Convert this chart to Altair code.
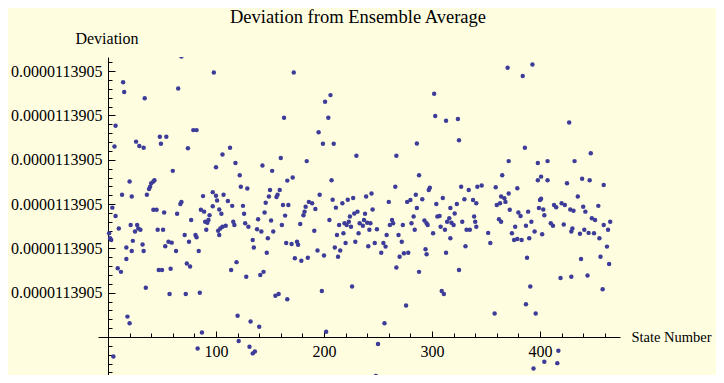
import altair as alt
import pandas as pd

# State number of each plotted point
state = [
    68, 14, 15, 34, 65, 7, 6, 26, 29, 33, 48, 54, 49, 74, 79, 82, 60, 20, 39, 40,
    42, 43, 38, 98, 172, 163, 113, 106, 118, 100, 160, 143, 152, 122, 166, 171, 123, 129, 206, 201,
    204, 195, 199, 209, 230, 184, 207, 302, 303, 313, 324, 325, 286, 267, 288, 266, 298, 327, 342, 370,
    384, 393, 427, 386, 447, 371, 398, 407, 432, 365, 398, 401, 407, 425, 439, 446, 459, 346, 359, 379,
    150, 159, 297, 334, 13, 22, 36, 68, 67, 4, 97, 100, 88, 107, 101, 111, 115, 97, 103, 125,
    157, 156, 149, 146, 162, 167, 196, 208, 186, 189, 183, 192, 211, 217, 222, 227, 239, 244, 245, 260,
    285, 291, 310, 277, 280, 330, 338, 341, 304, 286, 317, 323, 371, 364, 367, 435, 401, 7, 1, 2,
    3, 10, 21, 27, 28, 30, 25, 42, 45, 52, 64, 77, 46, 51, 23, 32, 17, 22, 33, 56,
    59, 53, 63, 71, 75, 81, 82, 84, 17, 9, 12, 47, 50, 58, 73, 76, 35, 57, 72, 85,
    18, 20, 83, 5, 94, 93, 90, 92, 86, 89, 105, 91, 102, 104, 106, 109, 103, 116, 117, 126,
    127, 130, 139, 145, 151, 164, 138, 142, 153, 161, 148, 134, 135, 165, 170, 147, 173, 119, 114, 128,
    141, 144, 155, 158, 166, 120, 132, 140, 87, 121, 131, 134, 136, 181, 182, 178, 191, 205, 175, 176,
    179, 185, 194, 200, 213, 210, 215, 212, 218, 220, 214, 219, 221, 223, 225, 224, 228, 231, 233, 236,
    237, 240, 243, 232, 229, 241, 242, 249, 247, 253, 255, 261, 258, 198, 226, 256, 202, 250, 248, 238,
    263, 264, 273, 269, 272, 257, 283, 281, 284, 293, 295, 296, 301, 305, 307, 308, 312, 314, 316, 318,
    320, 317, 328, 332, 335, 339, 340, 341, 331, 270, 274, 278, 294, 295, 313, 267, 288, 325, 309, 311,
    276, 321, 360, 363, 368, 380, 382, 372, 389, 400, 399, 403, 404, 413, 415, 420, 423, 428, 431, 440,
    442, 448, 451, 454, 459, 465, 463, 392, 410, 412, 422, 430, 429, 437, 441, 445, 450, 455, 377, 374,
    376, 379, 383, 387, 390, 395, 402, 388, 438, 462, 464, 456, 419, 429, 444, 391, 387, 458, 396, 417,
    394, 404, 416, 358, 352, 354, 362, 364,
]

# Deviation of each point, in units of one labelled tick step above the axis origin
deviation = [
    6.33, 5.75, 5.53, 5.39, 5.61, 4.77, 4.30, 4.41, 4.31, 4.27, 4.52, 4.52, 4.36, 4.26, 4.67, 4.67, 3.75, 3.51, 3.39, 3.47,
    3.51, 3.54, 3.34, 5.97, 5.97, 4.95, 4.27, 4.12, 3.93, 3.83, 4.04, 3.87, 3.75, 3.65, 3.53, 3.60, 3.39, 3.35, 5.46, 5.31,
    4.95, 4.62, 4.36, 4.36, 4.09, 3.97, 3.54, 5.49, 4.99, 4.88, 4.92, 4.44, 4.37, 4.09, 3.65, 3.39, 3.37, 3.39, 3.39, 6.08,
    5.89, 6.15, 4.84, 4.27, 4.15, 3.97, 3.93, 3.97, 3.97, 3.65, 3.54, 3.62, 3.54, 3.47, 3.57, 3.54, 3.43, 3.42, 3.38, 3.36,
    3.32, 3.32, 3.32, 3.32, 3.21, 3.17, 3.21, 3.05, 3.00, 2.92, 3.27, 3.19, 3.18, 3.21, 3.08, 3.07, 2.96, 2.95, 2.88, 2.96,
    3.21, 3.16, 3.17, 3.03, 2.98, 2.98, 3.21, 3.10, 3.05, 3.02, 2.94, 2.89, 2.92, 3.02, 3.10, 3.14, 3.17, 3.24, 2.88, 3.05,
    3.21, 3.11, 3.14, 3.05, 3.09, 3.11, 3.09, 3.02, 3.00, 2.91, 2.91, 3.00, 3.24, 3.17, 3.13, 3.17, 3.12, 2.73, 2.34, 2.23,
    2.19, 2.45, 2.53, 2.53, 2.45, 2.42, 2.38, 2.87, 2.87, 2.81, 2.78, 2.64, 2.42, 2.42, 2.17, 2.09, 2.02, 1.94, 1.94, 2.15,
    2.13, 2.05, 1.94, 2.30, 2.15, 2.30, 2.25, 1.94, 1.76, 1.55, 1.47, 1.51, 1.51, 1.54, 1.66, 1.59, 1.11, 0.97, 0.97, 1.00,
    0.46, 0.31, -0.26, -0.44, 2.75, 2.64, 2.60, 2.58, 2.87, 2.83, 2.78, 2.42, 2.40, 2.45, 2.49, 2.51, 2.30, 2.60, 2.53, 2.78,
    2.57, 2.49, 2.66, 2.81, 2.63, 2.74, 2.43, 2.38, 2.38, 2.53, 2.23, 2.19, 2.02, 2.12, 2.10, 1.90, 1.78, 1.69, 1.51, 1.36,
    1.40, 1.47, 0.93, 0.97, 0.85, 0.48, 0.35, 0.23, 0.10, -0.09, -0.22, -0.37, -0.33, 2.75, 2.83, 2.55, 2.40, 2.64, 2.15, 2.08,
    1.72, 1.79, 1.95, 1.84, 1.81, 2.02, 1.95, 2.30, 2.34, 2.12, 2.53, 2.57, 2.53, 2.60, 2.49, 2.72, 2.79, 2.83, 2.57, 2.51,
    2.64, 2.58, 2.57, 2.34, 2.15, 2.05, 2.42, 2.43, 2.12, 1.90, 2.12, 2.53, 2.30, 1.04, 1.14, 0.31, 0.12, -0.16, -0.88, 2.78,
    2.64, 2.57, 2.53, 2.30, 2.15, 2.04, 2.72, 2.57, 2.42, 2.63, 2.57, 2.53, 2.34, 2.72, 2.73, 2.49, 2.42, 2.60, 2.68, 2.58,
    2.53, 2.23, 2.60, 2.42, 2.42, 2.72, 2.60, 2.49, 2.05, 1.81, 1.89, 1.90, 1.98, 1.87, 1.90, 1.57, 1.47, 1.51, 1.04, 0.97,
    0.71, 2.79, 2.98, 3.02, 3.05, 2.81, 2.73, 2.87, 2.83, 3.09, 2.91, 2.88, 2.75, 2.98, 2.93, 3.02, 2.98, 2.88, 2.85, 2.94,
    2.83, 2.68, 2.64, 2.96, 2.53, 2.60, 2.42, 2.60, 2.57, 2.51, 2.54, 2.45, 2.38, 2.33, 2.42, 2.35, 2.34, 2.23, 2.49, 2.34,
    2.19, 2.21, 2.19, 2.51, 2.23, 2.38, 2.32, 1.79, 1.76, 2.04, 1.65, 1.81, 1.33, 1.36, 1.39, 1.14, 0.74, 1.08, 0.53, -0.31,
    -0.71, -0.56, -0.59, 0.53, 2.35, 2.12, 2.66, 2.60,
]

x_major = [100, 200, 300, 400]
x_minor = [20, 40, 60, 80, 120, 140, 160, 180, 220, 240, 260, 280,
           320, 340, 360, 380, 420, 440, 460]
y_major = [1, 2, 3, 4, 5, 6]
y_minor = [-0.8, -0.6, -0.4, -0.2, 0.2, 0.4, 0.6, 0.8, 1.2, 1.4, 1.6, 1.8,
           2.2, 2.4, 2.6, 2.8, 3.2, 3.4, 3.6, 3.8, 4.2, 4.4, 4.6, 4.8,
           5.2, 5.4, 5.6, 5.8, 6.2]
y_label = "0.0000113905"

df = pd.DataFrame({"state": state, "deviation": deviation})

FONT = "Liberation Serif"
xs = alt.Scale(domain=[-9.26, 474.07], nice=False, zero=False)
ys = alt.Scale(domain=[-0.858, 6.3205], nice=False, zero=False)

base = alt.Chart(df)

points = base.mark_circle(size=20, color="#3d3d99", opacity=1, clip=True).encode(
    x=alt.X("state:Q", scale=xs, axis=alt.Axis(
        orient="bottom", values=x_major, ticks=False, grid=False,
        domain=True, domainColor="black", domainWidth=1,
        labelPadding=6, labelFont=FONT, labelFontSize=16, labelColor="black",
        labelFlush=False, labelOverlap=False, offset=-38,
        title="State Number", titleX=533, titleY=0, titleAlign="left",
        titleBaseline="middle", titleFont=FONT, titleFontSize=14.5,
        titleFontWeight="normal", titleColor="black")),
    y=alt.Y("deviation:Q", scale=ys, axis=alt.Axis(
        orient="left", values=y_major, ticks=False, grid=False,
        domain=True, domainColor="black", domainWidth=1,
        labelExpr="'" + y_label + "'", labelPadding=6, labelFont=FONT,
        labelFontSize=16, labelColor="black", labelOverlap=False, labelFlush=False,
        offset=-10,
        title="Deviation", titleX=-1.5, titleY=-19, titleAngle=0,
        titleAlign="center", titleBaseline="middle", titleFont=FONT,
        titleFontSize=16, titleFontWeight="normal", titleColor="black")),
)

major = base.mark_point(opacity=0).encode(
    x=alt.X("state:Q", scale=xs, axis=alt.Axis(
        orient="bottom", values=x_major, domain=False, labels=False, grid=False,
        ticks=True, tickSize=6, tickColor="black", tickWidth=1, offset=-44, title=None)),
    y=alt.Y("deviation:Q", scale=ys, axis=alt.Axis(
        orient="left", values=y_major, domain=False, labels=False, grid=False,
        ticks=True, tickSize=7, tickColor="black", tickWidth=1, offset=-17, title=None)),
)

minor = base.mark_point(opacity=0).encode(
    x=alt.X("state:Q", scale=xs, axis=alt.Axis(
        orient="bottom", values=x_minor, domain=False, labels=False, grid=False,
        ticks=True, tickSize=4, tickColor="black", tickWidth=1, offset=-42, title=None)),
    y=alt.Y("deviation:Q", scale=ys, axis=alt.Axis(
        orient="left", values=y_minor, domain=False, labels=False, grid=False,
        ticks=True, tickSize=4, tickColor="black", tickWidth=1, offset=-14, title=None)),
)

chart = alt.layer(points, major, minor).resolve_axis(
    x="independent", y="independent"
).properties(
    width=522,
    height=318,
    padding={"left": 90, "top": 49, "right": 96, "bottom": 0},
    autosize=alt.AutoSizeParams(type="none"),
    background="#fffde0",
    title=alt.TitleParams(
        text="Deviation from Ensemble Average", font=FONT, fontSize=18.5,
        fontWeight="normal", color="black", anchor="middle", frame="group",
        baseline="alphabetic", offset=9, dx=-1, dy=20),
).configure_view(stroke="transparent")

chart.save("out.html", embed_options={"renderer": "svg", "actions": False})
